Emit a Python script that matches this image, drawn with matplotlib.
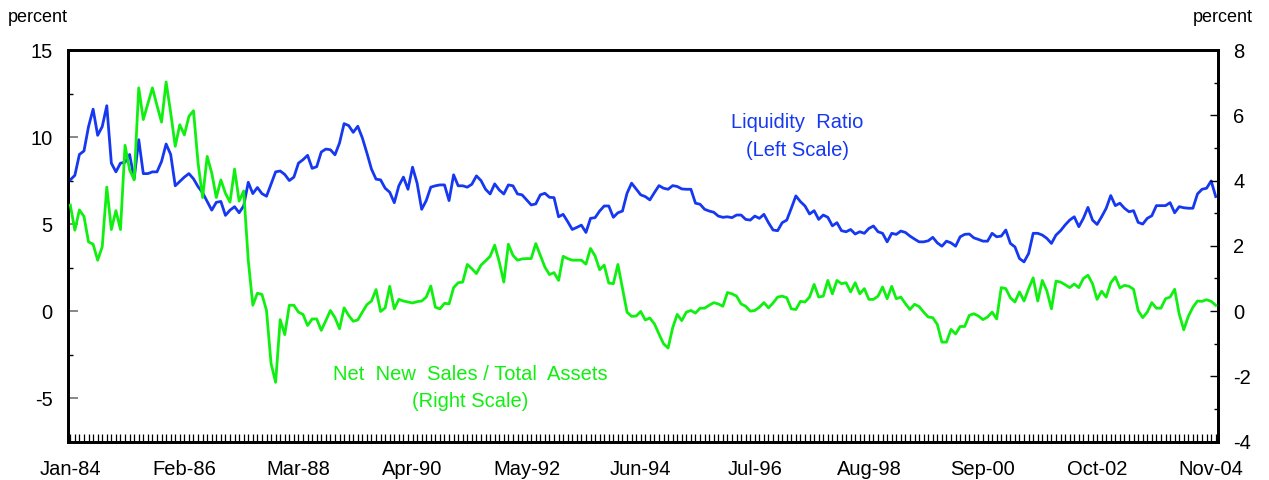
import numpy as np
import matplotlib
matplotlib.use("Agg")
import matplotlib.pyplot as plt
from matplotlib.ticker import MultipleLocator, FixedLocator

# monthly, Jan-84 .. Dec-04
liquidity_ratio = [
    7.54, 7.8, 9.0, 9.2, 10.6, 11.6, 10.1, 10.6, 11.8, 8.5,
    8.0, 8.5, 8.55, 9.0, 7.6, 9.85, 7.9, 7.9, 8.0, 8.0,
    8.6, 9.6, 9.0, 7.2, 7.45, 7.7, 7.9, 7.6, 7.15, 6.8,
    6.3, 5.8, 6.25, 6.3, 5.5, 5.8, 6.0, 5.65, 6.05, 7.4,
    6.75, 7.1, 6.75, 6.6, 7.3, 8.0, 8.05, 7.85, 7.5, 7.7,
    8.5, 8.7, 8.95, 8.2, 8.3, 9.14, 9.31, 9.27, 8.98, 9.66,
    10.77, 10.66, 10.27, 10.62, 9.95, 9.08, 8.16, 7.58, 7.54, 7.06,
    6.83, 6.23, 7.2, 7.7, 7.0, 8.27, 7.35, 5.85, 6.35, 7.12,
    7.2, 7.25, 7.25, 6.35, 7.83, 7.2, 7.2, 7.12, 7.29, 7.77,
    7.5, 7.0, 6.73, 7.31, 6.96, 6.73, 7.25, 7.2, 6.73, 6.68,
    6.39, 6.1, 6.16, 6.68, 6.77, 6.54, 6.52, 5.42, 5.56, 5.14,
    4.69, 4.81, 4.94, 4.52, 5.33, 5.37, 5.75, 6.04, 6.04, 5.39,
    5.65, 5.75, 6.77, 7.35, 7.02, 6.68, 6.58, 6.39, 6.81, 7.21,
    7.06, 7.0, 7.21, 7.16, 7.02, 7.0, 7.0, 6.2, 6.14, 5.85,
    5.75, 5.68, 5.46, 5.39, 5.42, 5.37, 5.52, 5.52, 5.27, 5.23,
    5.46, 5.33, 5.56, 5.08, 4.66, 4.62, 5.08, 5.23, 5.91, 6.62,
    6.29, 6.04, 5.58, 5.77, 5.27, 5.52, 5.39, 4.9, 5.08, 4.62,
    4.56, 4.69, 4.43, 4.56, 4.47, 4.75, 4.89, 4.56, 4.47, 3.98,
    4.47, 4.41, 4.6, 4.52, 4.31, 4.14, 3.98, 3.98, 4.04, 4.24,
    3.92, 3.73, 4.02, 3.92, 3.73, 4.27, 4.41, 4.43, 4.21, 4.12,
    4.02, 4.02, 4.47, 4.27, 4.31, 4.66, 3.89, 3.69, 3.02, 2.83,
    3.31, 4.47, 4.47, 4.37, 4.18, 3.89, 4.37, 4.62, 4.95, 5.23,
    5.42, 4.85, 5.33, 5.96, 5.23, 4.98, 5.42, 5.91, 6.64, 6.06,
    6.2, 5.91, 5.71, 5.77, 5.1, 5.0, 5.33, 5.48, 6.06, 6.06,
    6.06, 6.23, 5.65, 6.0, 5.94, 5.91, 5.91, 6.73, 7.0, 7.06,
    7.48, 6.58,
]

net_new_sales = [
    3.25, 2.48, 3.1, 2.9, 2.12, 2.05, 1.56, 1.97, 3.8, 2.5,
    3.08, 2.5, 5.08, 4.33, 4.02, 6.84, 5.87, 6.36, 6.84, 6.3,
    5.79, 7.02, 6.08, 5.05, 5.71, 5.4, 5.97, 6.14, 4.54, 3.48,
    4.74, 4.23, 3.48, 4.02, 3.61, 3.34, 4.35, 3.37, 3.68, 1.56,
    0.18, 0.55, 0.51, 0.02, -1.61, -2.18, -0.26, -0.72, 0.18, 0.18,
    -0.03, -0.1, -0.44, -0.24, -0.24, -0.59, -0.29, 0.02, -0.2, -0.54,
    0.1, -0.13, -0.31, -0.27, -0.03, 0.2, 0.31, 0.66, -0.01, 0.1,
    0.76, 0.07, 0.36, 0.31, 0.28, 0.25, 0.29, 0.31, 0.43, 0.77,
    0.12, 0.07, 0.24, 0.22, 0.72, 0.87, 0.89, 1.43, 1.3, 1.15,
    1.41, 1.54, 1.68, 2.02, 1.51, 0.89, 2.05, 1.71, 1.56, 1.6,
    1.61, 1.61, 2.07, 1.71, 1.35, 1.12, 1.18, 0.94, 1.68, 1.61,
    1.56, 1.56, 1.56, 1.44, 1.92, 1.69, 1.27, 1.41, 0.86, 0.84,
    1.43, 0.7, -0.03, -0.16, -0.15, -0.01, -0.27, -0.21, -0.39, -0.7,
    -1.0, -1.13, -0.51, -0.1, -0.29, -0.03, 0.02, -0.06, 0.09, 0.09,
    0.18, 0.26, 0.22, 0.15, 0.57, 0.53, 0.46, 0.22, 0.15, 0.0,
    0.02, 0.12, 0.26, 0.1, 0.25, 0.43, 0.46, 0.41, 0.07, 0.05,
    0.3, 0.28, 0.43, 0.82, 0.43, 0.46, 0.94, 0.53, 0.94, 0.84,
    0.87, 0.59, 0.87, 0.53, 0.69, 0.36, 0.36, 0.46, 0.74, 0.38,
    0.76, 0.38, 0.43, 0.23, 0.05, 0.21, 0.14, -0.03, -0.18, -0.2,
    -0.41, -0.95, -0.95, -0.56, -0.7, -0.47, -0.47, -0.13, -0.08, -0.15,
    -0.26, -0.18, -0.03, -0.24, 0.72, 0.69, 0.41, 0.28, 0.59, 0.31,
    0.69, 1.02, 0.31, 0.94, 0.62, 0.07, 0.92, 0.89, 0.81, 0.72,
    0.83, 0.72, 1.0, 1.1, 0.84, 0.36, 0.61, 0.43, 0.87, 1.05,
    0.71, 0.79, 0.76, 0.67, 0.02, -0.2, -0.03, 0.26, 0.09, 0.09,
    0.38, 0.43, 0.67, -0.09, -0.57, -0.16, 0.12, 0.31, 0.3, 0.35,
    0.3, 0.18,
]

tick_labels = ["Jan-84", "Feb-86", "Mar-88", "Apr-90", "May-92", "Jun-94",
               "Jul-96", "Aug-98", "Sep-00", "Oct-02", "Nov-04"]

BLUE = "#1538F0"
GREEN = "#10F010"

plt.rcParams["font.family"] = ["Liberation Sans", "DejaVu Sans"]
plt.rcParams["axes.unicode_minus"] = False

fig = plt.figure(figsize=(12.69, 4.8), dpi=100)
ax = fig.add_axes([68 / 1269, 38.3 / 480, 1150 / 1269, 391.7 / 480])
ax2 = ax.twinx()

x = np.arange(len(liquidity_ratio))
ax.plot(x, liquidity_ratio, color=BLUE, lw=2.0, zorder=3)
ax2.plot(x, net_new_sales, color=GREEN, lw=2.0, zorder=3)

ax.set_xlim(-0.5, len(x) - 0.5)
ax.set_ylim(-7.5, 15)
ax2.set_ylim(-4, 8)

# x axis: a tick every month, labels every 25 months
ax.xaxis.set_major_locator(FixedLocator(np.arange(0, len(x), 25)))
ax.set_xticklabels(tick_labels)
ax.xaxis.set_minor_locator(MultipleLocator(1))
ax.tick_params(axis="x", which="both", direction="in", length=6, width=0.9,
               color="black", top=False, labelsize=14.5, pad=13)

ax.yaxis.set_minor_locator(MultipleLocator(2.5))
ax.set_yticks([-5, 0, 5, 10, 15])
ax.tick_params(axis="y", which="major", direction="in", length=7, width=1.2,
               color="0.45", labelsize=14.5, pad=11)
ax.tick_params(axis="y", which="minor", direction="in", length=3.5, width=1,
               color="black")

ax2.yaxis.set_major_locator(MultipleLocator(2))
ax2.yaxis.set_minor_locator(MultipleLocator(1))
ax2.tick_params(axis="y", which="major", direction="in", length=6, width=1,
                color="black", labelsize=14.5, pad=11)
ax2.tick_params(axis="y", which="minor", direction="in", length=3, width=1,
                color="black")

for a in (ax, ax2):
    for s in a.spines.values():
        s.set_linewidth(2)
        s.set_color("black")

fig.text(8 / 1269, 1 - 17 / 480, "percent", ha="left", va="center", fontsize=13)
fig.text(1253 / 1269, 1 - 17 / 480, "percent", ha="right", va="center", fontsize=13)

fig.text(797 / 1269, 1 - 136.5 / 480, "Liquidity  Ratio\n(Left Scale)", color=BLUE,
         ha="center", va="center", fontsize=14.5, linespacing=1.55)
fig.text(470 / 1269, 1 - 388 / 480, "Net  New  Sales / Total  Assets\n(Right Scale)",
         color=GREEN, ha="center", va="center", fontsize=14.5, linespacing=1.55)

fig.savefig("out.png", dpi=100)
